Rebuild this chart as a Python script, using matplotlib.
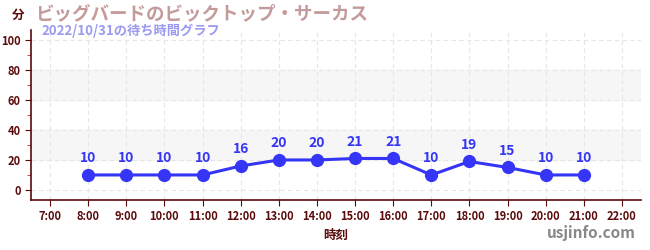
import matplotlib
matplotlib.use('Agg')
import matplotlib.pyplot as plt
from matplotlib.ticker import MultipleLocator, FuncFormatter

plt.rcParams['font.family'] = ['Noto Sans CJK JP', 'DejaVu Sans']

# data
hours = [8, 9, 10, 11, 12, 13, 14, 15, 16, 17, 18, 19, 20, 21]
waits = [10, 10, 10, 10, 16, 20, 20, 21, 21, 10, 19, 15, 10, 10]
title = 'ビッグバードのビックトップ・サーカス'
subtitle = '2022/10/31の待ち時間グラフ'

dark = '#5a0a0a'
blue = '#3535f5'

fig = plt.figure(figsize=(6.5, 2.5), dpi=100)
ax = fig.add_axes([31 / 650, 50 / 250, 610 / 650, 170 / 250])

ax.set_xlim(6.5, 22.5)
ax.set_ylim(-6.7, 106.7)

# gray bands
for lo, hi in [(20, 40), (60, 80)]:
    ax.axhspan(lo, hi, color='#f6f6f6', zorder=0)

ax.plot(hours, waits, color=blue, lw=2.2, marker='o', ms=8.5, zorder=3)
for h, w in zip(hours, waits):
    ax.annotate(str(w), (h, w), xytext=(0, 7), textcoords='offset points',
                ha='center', va='bottom', color=blue, fontsize=10, fontweight='bold')

ax.xaxis.set_major_locator(MultipleLocator(1))
ax.xaxis.set_major_formatter(FuncFormatter(lambda v, p: f'{int(v)}:00'))
ax.yaxis.set_major_locator(MultipleLocator(20))
ax.yaxis.set_minor_locator(MultipleLocator(10))
ax.grid(True, which='major', color='#e6e6e6', ls=(0, (4, 3)), lw=0.8)
ax.set_axisbelow(True)

for s in ['top', 'right']:
    ax.spines[s].set_visible(False)
for s in ['left', 'bottom']:
    ax.spines[s].set_color(dark)
    ax.spines[s].set_linewidth(1.2)

ax.tick_params(axis='both', which='major', colors=dark, labelsize=8, length=4)
ax.tick_params(axis='y', which='minor', colors='#cc2222', length=3)
for lbl in ax.get_xticklabels() + ax.get_yticklabels():
    lbl.set_fontweight('bold')
    lbl.set_color(dark)

ax.set_xlabel('時刻', color=dark, fontsize=9, fontweight='bold', labelpad=4)

fig.text(18 / 650, 1 - 15 / 250, '分', color=dark, fontsize=9, fontweight='bold',
         ha='center', va='center')
fig.text(35 / 650, 1 - 14 / 250, title, color='#c49a9a', fontsize=13.3, fontweight='bold',
         ha='left', va='center')
fig.text(41 / 650, 1 - 31 / 250, subtitle, color='#9a9af0', fontsize=9.5, fontweight='bold',
         ha='left', va='center')
fig.text(636 / 650, 1 - 233 / 250, 'usjinfo.com', color='#888888', fontsize=11,
         fontweight='bold', ha='right', va='center')

fig.savefig('out.png', dpi=100)
